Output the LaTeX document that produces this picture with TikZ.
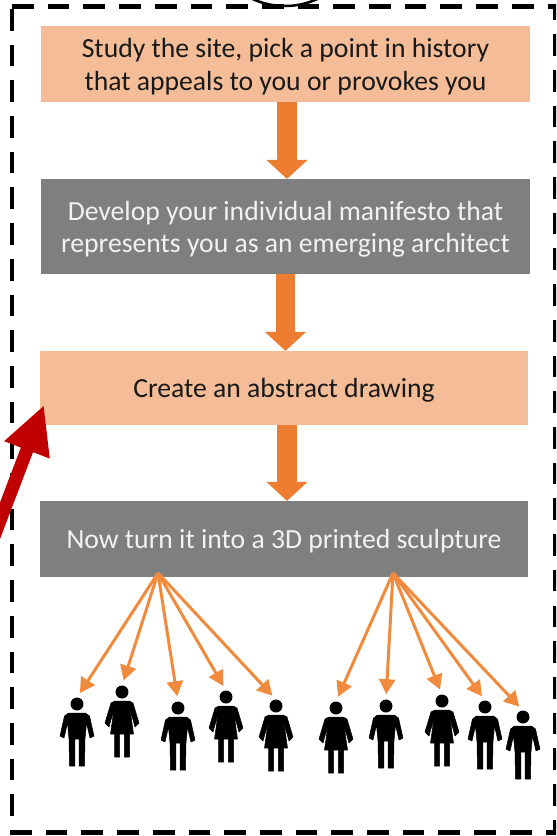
\documentclass[tikz,border=0pt]{standalone}
\usepackage{fontspec}
\setmainfont{Carlito}
\usepackage{tikz}
\usetikzlibrary{positioning}
\usetikzlibrary{arrows.meta}
\definecolor{boxpeach}{HTML}{F5BD97}
\definecolor{boxgrey}{HTML}{7F7F7F}
\definecolor{flow}{HTML}{ED7D31}
\definecolor{fan}{HTML}{F08A3C}
\definecolor{redarrow}{HTML}{C00000}
\newcommand{\lowerline}[1]{\raisebox{-0.05cm}[\height][\depth]{#1}}
\tikzset{
  box/.style={minimum width=9.78cm, minimum height=1.52cm, inner sep=0pt, outer sep=0pt, align=center,
    font=\fontsize{15.75}{18.4}\selectfont},
  peachbox/.style={box, fill=boxpeach, text=black!90},
  greybox/.style={box, fill=boxgrey, text=white!95!black},
  flowarrow/.style={-{Triangle[length=0.38cm,width=0.8cm]}, line width=0.4cm, flow},
  fanarrow/.style={-{Triangle[length=0.3cm,width=0.32cm]}, line width=0.06cm, fan, shorten >=3},
  headdot/.style={circle, fill=black, minimum size=0.26cm, inner sep=0pt, outer sep=0pt},
  man/.pic={
    \node[headdot] (-head) at (0,0) {};
    \fill[black, draw=black, line width=0.01cm, line join=round] (-8.5,9) -- (8.5,9) -- (12.5,12) -- (17,32) -- (13,34) -- (9.5,19) -- (8,35)
      -- (7.5,62) -- (2.2,62) -- (2.2,35) -- (-2.2,35) -- (-2.2,62) -- (-7.5,62) -- (-8,35) -- (-9.5,19) -- (-13,34) -- (-17,32) -- (-12.5,12) -- cycle;
  },
  woman/.pic={
    \node[headdot] (-head) at (0,0) {};
    \fill[black, draw=black, line width=0.01cm, line join=round] (-7,9) -- (7,9) -- (11,11) -- (17,31) -- (13,35) -- (8,17) -- (11.5,42) -- (7.5,42)
      -- (7.5,65) -- (2.4,65) -- (2.4,42) -- (-2.4,42) -- (-2.4,65) -- (-7.5,65) -- (-7.5,42) -- (-11.5,42) -- (-8,17) -- (-13,35) -- (-17,31) -- (-11,11) -- cycle;
  }
}
\begin{document}
\begin{tikzpicture}[x=0.02cm, y=-0.02cm]
      \path[use as bounding box, clip] (0,0) rectangle (556,836);

      % frame and the circle cut off above it
      \draw[black, line width=0.05cm] (285,-72) circle[radius=78];
      \draw[black, line width=0.1cm, dash pattern=on 0.434cm off 0.2802cm] (12,6) -- (555,6) -- (555,832) -- (12,832) -- cycle;

      \node(site) [peachbox] at (285.5,64) {\lowerline{Study the site, pick a point in history}\\\lowerline{that appeals to you or provokes you}};
      \node(manifesto) [greybox, minimum height=1.9cm, below=1.54cm of site] {\lowerline{Develop your individual manifesto that}\\\lowerline{represents you as an emerging architect}};
      \node(drawing) [peachbox, minimum height=1.48cm, below=1.54cm of manifesto, xshift=-0.03cm] {\lowerline{Create an abstract drawing}};
      \node(sculpture) [greybox, below=1.52cm of drawing] {\lowerline{Now turn it into a 3D printed sculpture}};

      \draw[flowarrow] ([xshift=0.03cm]site.south) -- ([xshift=0.03cm]manifesto.north);
      \draw[flowarrow] (manifesto.south) -- ([xshift=0.03cm]drawing.north);
      \draw[flowarrow] ([xshift=0.06cm]drawing.south) -- ([xshift=0.06cm]sculpture.north);

      % red arrow coming in from the left edge
      \coordinate (redstart) at (-10,547);
      \coordinate (redtip) at (44,405);
      \draw[-{Triangle[length=0.96cm,width=0.9cm]}, line width=0.26cm, redarrow] (redstart) -- (redtip);

      \coordinate (fanleft) at (158,573);
      \coordinate (fanright) at (393,573);

      \foreach \name/\kind/\px/\py in {a/man/77/704, b/woman/122/692, c/man/178/708, d/woman/226/697, e/woman/276/706,
                                       f/woman/336/708, g/man/386/706, h/woman/442/701, i/man/485/707, j/man/523/717}
        \pic (\name) at (\px,\py) {\kind};

      \foreach \name in {a,b,c,d,e}
        \draw[fanarrow] (fanleft) -- (\name-head.north);
      \foreach \name in {f,g,h,i,j}
        \draw[fanarrow] (fanright) -- (\name-head.north);
    \end{tikzpicture}
\end{document}
